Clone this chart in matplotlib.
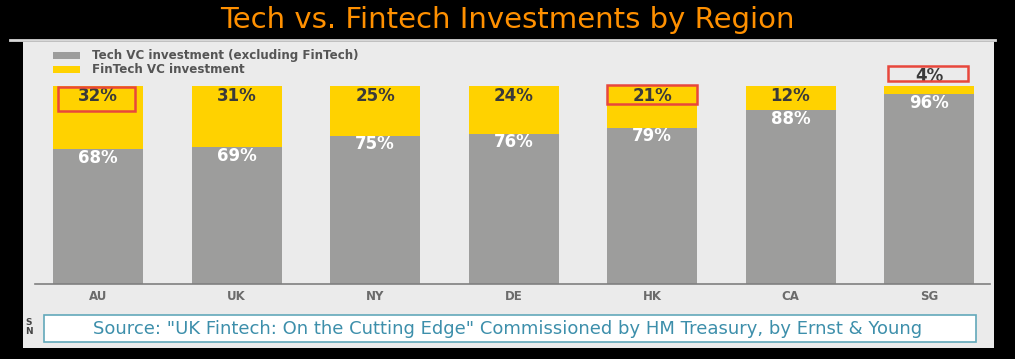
import matplotlib
matplotlib.use("Agg")
import matplotlib.pyplot as plt
from matplotlib.patches import Rectangle

regions = ["AU", "UK", "NY", "DE", "HK", "CA", "SG"]
tech_vc = [68, 69, 75, 76, 79, 88, 96]
fintech_vc = [32, 31, 25, 24, 21, 12, 4]
highlighted = ["AU", "HK", "SG"]
title = "Tech vs. Fintech Investments by Region"
legend_labels = ["Tech VC investment (excluding FinTech)", "FinTech VC investment"]
source = 'Source: "UK Fintech: On the Cutting Edge" Commissioned by HM Treasury, by Ernst & Young'

W, H = 1015, 359
fig = plt.figure(figsize=(W / 100, H / 100), dpi=100, facecolor="black")

def fx(x):
    return x / W

def fy(y):
    return 1 - y / H

GRAY = "#9d9d9c"
YELLOW = "#ffd200"
RED = "#e8473c"

# panel background
fig.patches.append(Rectangle((fx(23), fy(348)), fx(994 - 23), (348 - 42) / H,
                             transform=fig.transFigure, facecolor="#ebebeb",
                             edgecolor="none", zorder=0))
# white separator line
fig.lines.append(plt.Line2D([fx(10), fx(995)], [fy(40), fy(40)], transform=fig.transFigure,
                            color="#d8d8d8", lw=2, zorder=1))

fig.text(0.5, fy(20), title, color="#ff9000", fontsize=21, ha="center", va="center",
         family=["DejaVu Sans"])

ax = fig.add_axes([fx(35), fy(284), fx(990 - 35), (284 - 86) / H])
ax.set_zorder(2)
ax.set_facecolor("none")
x = list(range(len(regions)))
bw = 0.65
ax.bar(x, tech_vc, width=bw, color=GRAY, zorder=2)
ax.bar(x, fintech_vc, bottom=tech_vc, width=bw, color=YELLOW, zorder=2)
ax.set_xlim(-0.455, 6.44)
ax.set_ylim(0, 100)
for s in ["top", "right", "left"]:
    ax.spines[s].set_visible(False)
ax.spines["bottom"].set_color("#808080")
ax.spines["bottom"].set_linewidth(1.2)
ax.set_yticks([])
ax.set_xticks(x)
ax.set_xticklabels(regions, fontsize=8.5, fontweight="bold", color="#6b6b6b")
ax.tick_params(axis="x", length=0, pad=4)

for i, (t, f) in enumerate(zip(tech_vc, fintech_vc)):
    ax.text(i, t - 4.5, f"{t}%", ha="center", va="center", color="white",
            fontsize=12, fontweight="bold", zorder=4)
    ty = t + f - 5 if f > 8 else t + f + 5
    ax.text(i, ty, f"{f}%", ha="center", va="center", color="#3a3a3a",
            fontsize=12, fontweight="bold", zorder=4, clip_on=False)

# red highlight boxes (x0, x1 relative to bar centre, y0, y1 in %)
box_geom = {"AU": (-0.289, 0.267, 87.4, 99.5),
            "HK": (-0.325, 0.325, 90.9, 100.5),
            "SG": (-0.296, 0.282, 102.5, 110.1)}
for r in highlighted:
    i = regions.index(r)
    x0, x1, y0, y1 = box_geom[r]
    ax.add_patch(Rectangle((i + x0, y0), x1 - x0, y1 - y0, fill=False,
                           edgecolor=RED, lw=1.8, zorder=5, clip_on=False))

# legend
for k, (lab, col) in enumerate(zip(legend_labels, [GRAY, YELLOW])):
    yc = 55.5 + k * 14
    fig.patches.append(Rectangle((fx(53), fy(yc + 3.5)), fx(27), 7 / H,
                                 transform=fig.transFigure, facecolor=col,
                                 edgecolor="none", zorder=3))
    fig.text(fx(92), fy(yc), lab, fontsize=8.6, fontweight="bold", color="#555555",
             ha="left", va="center")

# hidden fragments behind source box
fig.text(fx(25), fy(327), "S\nN", fontsize=6.5, fontweight="bold", color="#444444",
         ha="left", va="center", linespacing=1.0, zorder=2)

# source box
fig.patches.append(Rectangle((fx(44), fy(342)), fx(976 - 44), (342 - 315) / H,
                             transform=fig.transFigure, facecolor="white",
                             edgecolor="#62a8ba", lw=1.2, zorder=5))
fig.text(fx(508), fy(328.5), source, fontsize=13, color="#3d8fab",
         ha="center", va="center", zorder=6)

fig.savefig("out.png", dpi=100, facecolor="black")
